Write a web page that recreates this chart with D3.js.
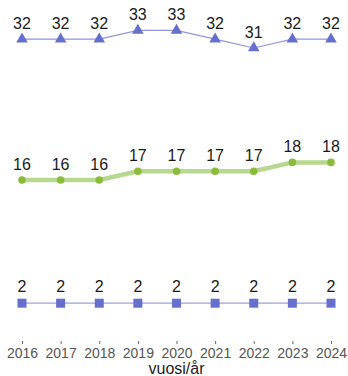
<!DOCTYPE html>
<html>
<head>
<meta charset="utf-8">
<script src="https://cdn.jsdelivr.net/npm/d3@7"></script>
<style>
  html, body { margin: 0; padding: 0; background: #fff; }
  svg { display: block; font-family: "Liberation Sans", Arial, sans-serif; }
</style>
</head>
<body>
<svg id="chart" width="348" height="376"></svg>
<script>
const years = ["2016", "2017", "2018", "2019", "2020", "2021", "2022", "2023", "2024"];
const topSeries = [32, 32, 32, 33, 33, 32, 31, 32, 32];
const midSeries = [16, 16, 16, 17, 17, 17, 17, 18, 18];
const lowSeries = [2, 2, 2, 2, 2, 2, 2, 2, 2];
const axisTitle = "vuosi/år";

const svg = d3.select("#chart");

const x = d3.scalePoint().domain(years).range([22, 331]);
const y = d3.scaleLinear().domain([0, 33]).range([320.8, 30.4]);

const line = d3.line().x((d, i) => x(years[i])).y(d => y(d));

// Top series: thin blue line with triangles
svg.append("path").datum(topSeries)
  .attr("d", line).attr("fill", "none")
  .attr("stroke", "#8f96dc").attr("stroke-width", 1.2);
svg.selectAll(".tri").data(topSeries).join("path")
  .attr("class", "tri")
  .attr("d", d3.symbol().type(d3.symbolTriangle).size(58))
  .attr("transform", (d, i) => `translate(${x(years[i])},${y(d)})`)
  .attr("fill", "#6670cc");

// Middle series: thick green line with dots
svg.append("path").datum(midSeries)
  .attr("d", line).attr("fill", "none")
  .attr("stroke", "#b7d98f").attr("stroke-width", 4.5);
svg.selectAll(".dot").data(midSeries).join("circle")
  .attr("class", "dot")
  .attr("cx", (d, i) => x(years[i])).attr("cy", d => y(d)).attr("r", 3.8)
  .attr("fill", "#8abb3a");

// Bottom series: thin blue line with squares
svg.append("path").datum(lowSeries)
  .attr("d", line).attr("fill", "none")
  .attr("stroke", "#9aa0e0").attr("stroke-width", 1.2);
svg.selectAll(".sq").data(lowSeries).join("rect")
  .attr("class", "sq")
  .attr("x", (d, i) => x(years[i]) - 4.5).attr("y", d => y(d) - 4.5)
  .attr("width", 9).attr("height", 9)
  .attr("fill", "#6670cc");

// Value labels
function labels(data, cls, dy) {
  svg.selectAll("." + cls).data(data).join("text")
    .attr("class", cls)
    .attr("x", (d, i) => x(years[i]))
    .attr("y", d => y(d) + dy)
    .attr("text-anchor", "middle")
    .attr("font-size", 16)
    .attr("fill", "#1a1a1a")
    .text(d => d);
}
labels(topSeries, "lt", -10);
labels(midSeries, "lm", -10);
labels(lowSeries, "lb", -11);

// X axis
const axis = d3.axisBottom(x).tickSize(3).tickSizeOuter(0).tickPadding(4);
const gx = svg.append("g").attr("transform", "translate(0,341)").call(axis);
gx.select(".domain").remove();
gx.selectAll(".tick line").attr("stroke", "#666");
gx.selectAll(".tick text").attr("font-size", 14).attr("fill", "#555")
  .attr("font-family", "'Liberation Sans', Arial, sans-serif");

svg.append("text")
  .attr("x", (x(years[0]) + x(years[years.length - 1])) / 2)
  .attr("y", 374)
  .attr("text-anchor", "middle")
  .attr("font-size", 16)
  .attr("fill", "#222")
  .text(axisTitle);
</script>
</body>
</html>
